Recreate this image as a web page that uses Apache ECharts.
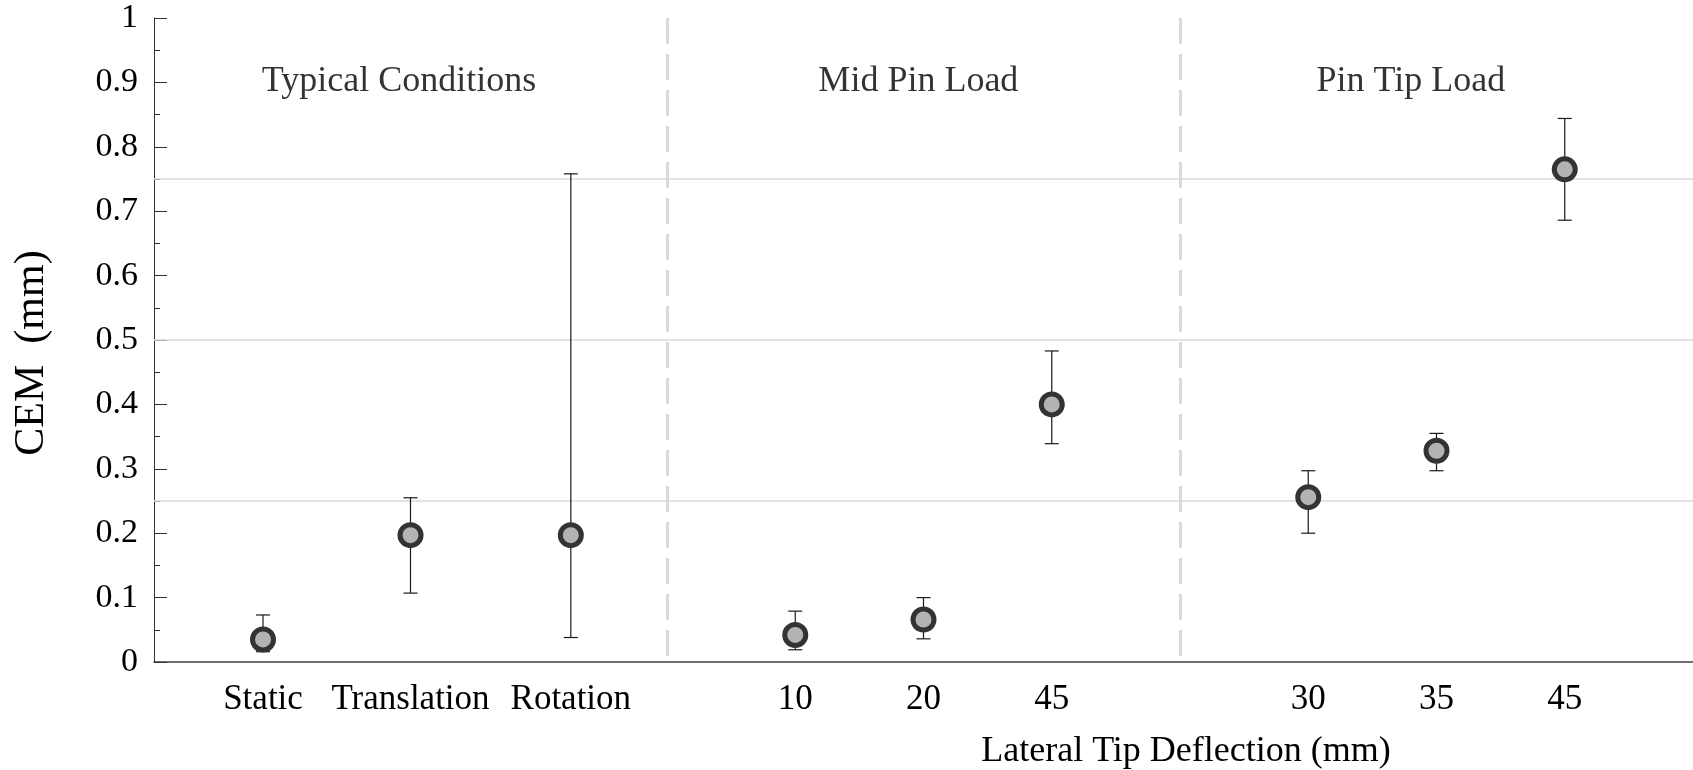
<!DOCTYPE html>
<html lang="en">
<head>
    <meta charset="utf-8">
    <title>CEM</title>
    <script src="https://cdn.jsdelivr.net/npm/echarts@6.0.0/dist/echarts.min.js"></script>
    <style>
        html, body { margin: 0; padding: 0; background: #fff; }
        #chart { width: 1693px; height: 770px; }
    </style>
</head>
<body>
<div id="chart"></div>

<script>
    // positions on the x value axis, groups are split at 4 and 8
    var categories = ['Static', 'Translation', 'Rotation', '10', '20', '45', '30', '35', '45'];
    var xPos = [0.85, 2, 3.25, 5, 6, 7, 9, 10, 11];
    var cem = [0.035, 0.197, 0.197, 0.042, 0.066, 0.400, 0.256, 0.328, 0.765];
    var cemLow = [0.016, 0.107, 0.038, 0.019, 0.036, 0.339, 0.200, 0.297, 0.686];
    var cemHigh = [0.073, 0.255, 0.758, 0.079, 0.100, 0.483, 0.297, 0.355, 0.844];

    var groupNames = ['Typical Conditions', 'Mid Pin Load', 'Pin Tip Load'];
    var groupPos = [1.91, 5.96, 9.8];
    var groupSplits = [4, 8];
    var refLines = [0.25, 0.5, 0.75];

    var serif = '"Liberation Serif", "Times New Roman", serif';

    var pts = [], bars = [], titles = [];
    for (var i = 0; i < xPos.length; i++) {
        pts.push([xPos[i], cem[i]]);
        bars.push([xPos[i], cemLow[i], cemHigh[i]]);
    }
    for (var g = 0; g < groupNames.length; g++) {
        titles.push({ name: groupNames[g], value: [groupPos[g], 0.902] });
    }

    function renderErrorBar(params, api) {
        var x = api.value(0);
        var lo = api.coord([x, api.value(1)]);
        var hi = api.coord([x, api.value(2)]);
        var half = 7;
        var st = { stroke: '#1a1a1a', lineWidth: 1.2 };
        return {
            type: 'group',
            children: [
                { type: 'line', shape: { x1: lo[0], y1: lo[1], x2: hi[0], y2: hi[1] }, style: st },
                { type: 'line', shape: { x1: lo[0] - half, y1: lo[1], x2: lo[0] + half, y2: lo[1] }, style: st },
                { type: 'line', shape: { x1: hi[0] - half, y1: hi[1], x2: hi[0] + half, y2: hi[1] }, style: st }
            ]
        };
    }

    function labelFor(v) {
        for (var k = 0; k < xPos.length; k++) {
            if (Math.abs(xPos[k] - v) < 1e-6) return categories[k];
        }
        return '';
    }

    var chart = echarts.init(document.getElementById('chart'));
    chart.setOption({
        backgroundColor: '#fff',
        animation: false,
        grid: { left: 154, right: 0, top: 18, bottom: 108, outerBoundsMode: 'none' },
        xAxis: {
            type: 'value',
            min: 0,
            max: 12,
            axisLine: { lineStyle: { color: '#404040', width: 1.5 } },
            axisTick: { show: false },
            splitLine: { show: false },
            axisLabel: {
                customValues: xPos,
                formatter: labelFor,
                margin: 20,
                color: '#000',
                fontFamily: serif,
                fontSize: 35
            }
        },
        yAxis: {
            type: 'value',
            min: 0,
            max: 1,
            interval: 0.1,
            axisLine: { show: true, lineStyle: { color: '#333', width: 1 } },
            axisTick: { inside: true, length: 13, lineStyle: { color: '#333' } },
            minorTick: { show: true, splitNumber: 2, length: 6, lineStyle: { color: '#333' } },
            splitLine: { show: false },
            axisLabel: { margin: 16, color: '#000', fontFamily: serif, fontSize: 34 }
        },
        graphic: [
            {
                type: 'text', x: 32, y: 353, rotation: Math.PI / 2,
                style: {
                    text: 'CEM  (mm)', fill: '#000', fontFamily: serif, fontSize: 42,
                    font: '42px ' + serif,
                    textAlign: 'center', textVerticalAlign: 'middle', align: 'center', verticalAlign: 'middle'
                }
            },
            {
                type: 'text', x: 1186, y: 752,
                style: {
                    text: 'Lateral Tip Deflection (mm)', fill: '#000', fontFamily: serif, fontSize: 36,
                    font: '36px ' + serif,
                    textAlign: 'center', textVerticalAlign: 'middle', align: 'center', verticalAlign: 'middle'
                }
            }
        ],
        series: [
            {
                type: 'custom',
                name: 'range',
                z: 2,
                renderItem: renderErrorBar,
                encode: { x: 0, y: [1, 2] },
                data: bars,
                markLine: {
                    z: 1,
                    silent: true,
                    symbol: ['none', 'none'],
                    label: { show: false },
                    data: refLines.map(function (v) {
                        return { yAxis: v, lineStyle: { color: '#dadada', width: 1.5, type: 'solid' } };
                    }).concat(groupSplits.map(function (v) {
                        return { xAxis: v, lineStyle: { color: '#dadada', width: 3, type: [26, 10], dashOffset: 30 } };
                    }))
                }
            },
            {
                type: 'scatter',
                name: 'CEM',
                z: 3,
                symbol: 'circle',
                symbolSize: 21,
                itemStyle: { color: '#b3b3b3', borderColor: '#333', borderWidth: 5, opacity: 1 },
                data: pts
            },
            {
                type: 'scatter',
                name: 'groups',
                silent: true,
                symbolSize: 1,
                itemStyle: { color: 'transparent' },
                label: {
                    show: true,
                    position: 'inside',
                    formatter: '{b}',
                    color: '#000',
                    fontFamily: serif,
                    fontSize: 36
                },
                data: titles
            }
        ]
    });
</script>
</body>
</html>
